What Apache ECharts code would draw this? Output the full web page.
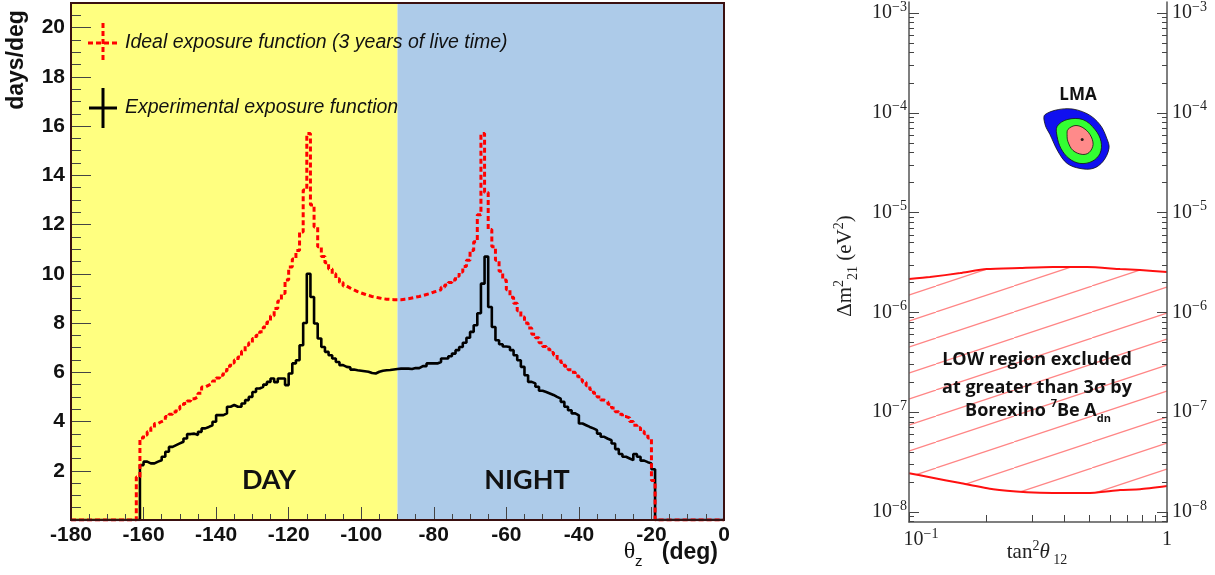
<!DOCTYPE html>
<html><head><meta charset="utf-8">
<script src="https://cdn.jsdelivr.net/npm/echarts@6/dist/echarts.min.js"></script>
<style>html,body{margin:0;padding:0;background:#fff}#c{width:1215px;height:575px}</style>
</head><body><div id="c"></div>
<script>
// ---------- Left panel: exposure functions (1-degree bins, value = days/deg) ----------
const idealFirstBin = -162;
const idealExposure = [
  1.75,3.33,3.45,3.58,3.75,3.92,4.0,4.06,4.2,4.3,
  4.39,4.5,4.62,4.73,4.83,4.92,5.0,5.15,5.4,5.48,
  5.55,5.65,5.77,5.88,6.05,6.25,6.38,6.5,6.62,6.85,
  7.1,7.2,7.37,7.5,7.65,7.84,8.04,8.3,8.59,8.9,
  9.2,9.75,10.28,10.6,10.95,11.7,13.4,15.7,12.8,11.9,
  11.1,10.7,10.45,10.2,10.0,9.8,9.65,9.5,9.42,9.35,
  9.28,9.22,9.17,9.12,9.08,9.05,9.02,8.99,8.97,8.96,
  8.95,8.95,8.95,8.97,8.99,9.02,9.05,9.08,9.12,9.16,
  9.2,9.26,9.3,9.35,9.45,9.55,9.65,9.75,9.9,10.07,
  10.3,10.55,10.95,11.3,12.4,15.7,13.3,11.8,11.1,10.55,
  10.1,9.75,9.35,9.05,8.8,8.5,8.25,8.0,7.8,7.55,
  7.4,7.2,7.05,6.95,6.8,6.7,6.55,6.4,6.25,6.1,
  6.0,5.85,5.7,5.6,5.45,5.3,5.15,5.0,4.87,4.8,
  4.7,4.55,4.4,4.3,4.2,4.15,4.0,3.85,3.75,3.6,
  3.5,3.33,1.6
];
const expFirstBin = -161;
const expExposure = [
  2.23,2.37,2.3,2.3,2.37,2.43,2.57,2.77,2.97,3.04,
  3.11,3.18,3.31,3.49,3.51,3.45,3.58,3.72,3.78,3.85,
  3.99,4.26,4.26,4.33,4.6,4.67,4.6,4.6,4.73,4.87,
  5.0,5.2,5.34,5.41,5.5,5.61,5.75,5.6,5.75,5.75,
  5.48,5.95,6.36,6.49,7.1,8.0,10.0,9.06,7.98,7.37,
  7.03,6.83,6.69,6.56,6.42,6.29,6.22,6.2,6.11,6.08,
  6.06,6.04,6.02,5.97,5.95,6.02,6.06,6.08,6.09,6.11,
  6.13,6.15,6.15,6.15,6.13,6.17,6.17,6.25,6.25,6.36,
  6.36,6.36,6.42,6.56,6.56,6.65,6.76,6.9,7.03,7.2,
  7.4,7.64,7.91,8.4,9.6,10.7,8.65,7.84,7.3,7.14,
  7.05,7.03,6.9,6.69,6.49,6.22,5.88,5.61,5.55,5.41,
  5.25,5.2,5.14,5.08,5.0,4.93,4.8,4.6,4.46,4.33,
  4.25,3.92,3.85,3.78,3.72,3.65,3.51,3.38,3.3,3.24,
  3.11,2.88,2.68,2.57,2.5,2.43,2.68,2.57,2.41,2.35,
  2.3,2.06
];
const dayRange = [-180, -90];
const nightRange = [-90, 0];

// ---------- Right panel: oscillation parameter space ----------
const lowUpper = [[0.1,2.16e-6],[0.1205,2.26e-6],[0.158,2.48e-6],[0.2,2.72e-6],[0.269,2.79e-6],[0.361,2.85e-6],[0.49,2.85e-6],[0.658,2.72e-6],[0.786,2.66e-6],[1.0,2.54e-6]];
const lowLower = [[0.1,2.45e-8],[0.1205,2.23e-8],[0.158,1.95e-8],[0.212,1.69e-8],[0.286,1.58e-8],[0.361,1.55e-8],[0.49,1.55e-8],[0.658,1.66e-8],[0.786,1.69e-8],[1.0,1.82e-8]];
const lmaOuter = [[0.337,9.6e-5],[0.41,1.10e-4],[0.49,9.8e-5],[0.55,7.6e-5],[0.585,5.5e-5],[0.596,4.4e-5],[0.565,3.26e-5],[0.517,2.77e-5],[0.46,2.77e-5],[0.41,3.11e-5],[0.378,4.1e-5],[0.352,6.05e-5],[0.337,7.6e-5]];
const lmaMiddle = [[0.375,7.3e-5],[0.41,8.55e-5],[0.472,8.55e-5],[0.526,6.8e-5],[0.555,5.16e-5],[0.55,3.92e-5],[0.512,3.26e-5],[0.46,3.11e-5],[0.417,3.49e-5],[0.388,4.4e-5],[0.375,5.78e-5]];
const lmaInner = [[0.413,6.8e-5],[0.44,7.45e-5],[0.472,7.1e-5],[0.503,6.05e-5],[0.517,4.82e-5],[0.499,4.0e-5],[0.469,3.83e-5],[0.432,4.2e-5],[0.413,5.16e-5],[0.41,6.05e-5]];
const bestFit = [[0.469, 5.4e-5]];

// tick labels / tick positions
const rightYMajorTicks = [1e-8, 1e-7, 1e-6, 1e-5, 1e-4, 1e-3];
const rightYMinorMantissas = [2,3,4,5,6,7,8,9];
const rightXMajorTicks = [0.1, 1];
const rightXMinorTicks = [0.2,0.3,0.4,0.5,0.6,0.7,0.8,0.9];

// ---------- build ----------
function histPoints(first, vals){
  const pts = [[-180, 0]];
  vals.forEach((v,i)=>pts.push([first+i, v]));
  pts.push([first+vals.length, 0]);
  pts.push([0, 0]);
  return pts;
}
const yMinR = Math.pow(10, -8.0998), yMaxR = Math.pow(10, -2.8902);
const rightYMinorTicks = [];
[1e-9,1e-8,1e-7,1e-6,1e-5,1e-4,1e-3].forEach(d=>rightYMinorMantissas.forEach(m=>{const v=m*d; if(v>yMinR && v<yMaxR) rightYMinorTicks.push(v);}));

const hatch = document.createElement('canvas');
hatch.width = 78; hatch.height = 26;
(function(){const c=hatch.getContext('2d');c.strokeStyle='#ff8585';c.lineWidth=1.2;
 [-78,0,78].forEach(o=>{c.beginPath();c.moveTo(o,26);c.lineTo(o+78,0);c.stroke();});})();

function polygonSeries(points, fill){
  return {
    type:'custom', xAxisIndex:1, yAxisIndex:1, data: points, z: 6, silent:true,
    renderItem: function(params, api){
      if (params.dataIndex !== 0) return;
      return {type:'polygon', shape:{points: points.map(p=>api.coord(p)), smooth:0.35},
              style:{fill: fill, stroke:'#111', lineWidth:0.8}};
    }
  };
}
const lowRegion = lowUpper.concat(lowLower.slice().reverse());

const SANS = 'Liberation Sans', SERIF = 'Liberation Serif', CAL = 'Open Sans';
const supFmt = function(v){
  const e = Math.round(Math.log10(v));
  return '{b|10}{s|' + String(e).replace('-', '\u2212') + '}';
};
const supRich = {
  b:{fontFamily:SERIF, fontSize:20, lineHeight:20, verticalAlign:'bottom', color:'#222'},
  s:{fontFamily:SERIF, fontSize:14, lineHeight:14, padding:[0,0,9,0], verticalAlign:'bottom', color:'#222'},
  sp:{width:24, fontSize:20, lineHeight:20, verticalAlign:'bottom'}
};
const frameRight = {color:'#555', width:1.5};
const tickCol = {color:'#444'};

const option = {
  animation:false,
  backgroundColor:'#fff',
  grid:[
    {left:71, right:491, top:3, bottom:55, show:true, borderColor:'#3a1010', borderWidth:2, backgroundColor:'transparent', z:10},
    {left:909, right:48, top:0, bottom:53}
  ],
  xAxis:[
    {gridIndex:0, type:'value', min:-180, max:0, interval:20, position:'bottom', z:6,
     axisLine:{onZero:false, lineStyle:{color:'#333', width:1.5}},
     axisTick:{inside:true, length:13, lineStyle:tickCol},
     minorTick:{show:true, splitNumber:4, length:6, lineStyle:tickCol},
     splitLine:{show:false},
     axisLabel:{fontFamily:SANS, fontWeight:'bold', fontSize:21, color:'#111', margin:5}},
    {gridIndex:1, type:'log', logBase:10, min:0.1, max:1, position:'bottom', z:6,
     axisLine:{onZero:false, lineStyle:frameRight},
     axisTick:{inside:true, length:10, customValues:rightXMajorTicks, lineStyle:tickCol},
     axisLabel:{customValues:rightXMajorTicks, margin:8, rich:supRich,
       formatter:function(v){ return v>=1 ? '{b|1}' : '{sp| }' + supFmt(v); }},
     splitLine:{show:false}},
    {gridIndex:1, type:'log', logBase:10, min:0.1, max:1, position:'bottom', z:6,
     axisLine:{show:false, onZero:false},
     axisTick:{inside:true, length:7, customValues:rightXMinorTicks, lineStyle:tickCol},
     axisLabel:{show:false}, splitLine:{show:false}}
  ],
  yAxis:[
    {gridIndex:0, type:'value', min:0, max:21, interval:2, position:'left', z:6,
     axisLine:{show:true, onZero:false, lineStyle:{color:'#333', width:1.5}},
     axisTick:{inside:true, length:20, lineStyle:tickCol},
     minorTick:{show:true, splitNumber:4, length:10, lineStyle:tickCol},
     splitLine:{show:false},
     axisLabel:{fontFamily:SANS, fontWeight:'bold', fontSize:21, color:'#111', margin:6,
       formatter:function(v){ return (v<=0 || v>20) ? '' : String(v); }}},
    {gridIndex:1, type:'log', logBase:10, min:yMinR, max:yMaxR, position:'left', z:6,
     axisLine:{show:true, onZero:false, lineStyle:frameRight},
     axisTick:{inside:true, length:10, customValues:rightYMajorTicks, lineStyle:tickCol},
     axisLabel:{customValues:rightYMajorTicks, margin:2, rich:supRich, formatter:supFmt},
     splitLine:{show:false}},
    {gridIndex:1, type:'log', logBase:10, min:yMinR, max:yMaxR, position:'left', z:6,
     axisLine:{show:false, onZero:false},
     axisTick:{inside:true, length:5, customValues:rightYMinorTicks, lineStyle:tickCol},
     axisLabel:{show:false}, splitLine:{show:false}},
    {gridIndex:1, type:'log', logBase:10, min:yMinR, max:yMaxR, position:'right', z:6,
     axisLine:{show:true, onZero:false, lineStyle:frameRight},
     axisTick:{inside:true, length:10, customValues:rightYMajorTicks, lineStyle:tickCol},
     axisLabel:{customValues:rightYMajorTicks, margin:5, rich:supRich, formatter:supFmt},
     splitLine:{show:false}},
    {gridIndex:1, type:'log', logBase:10, min:yMinR, max:yMaxR, position:'right', z:6,
     axisLine:{show:false, onZero:false},
     axisTick:{inside:true, length:5, customValues:rightYMinorTicks, lineStyle:tickCol},
     axisLabel:{show:false}, splitLine:{show:false}}
  ],
  series:[
    {type:'line', xAxisIndex:0, yAxisIndex:0, data:[], z:1, silent:true,
     markArea:{silent:true, itemStyle:{opacity:1},
       data:[[{xAxis:dayRange[0], itemStyle:{color:'#ffff80'}},{xAxis:dayRange[1]}],
             [{xAxis:nightRange[0], itemStyle:{color:'#adcbe9'}},{xAxis:nightRange[1]}]]}},
    {name:'Experimental exposure function', type:'line', xAxisIndex:0, yAxisIndex:0, step:'end',
     showSymbol:false, symbol:'none', z:3, silent:true,
     lineStyle:{color:'#000', width:2.6}, data: histPoints(expFirstBin, expExposure)},
    {name:'Ideal exposure function (3 years of live time)', type:'line', xAxisIndex:0, yAxisIndex:0, step:'end',
     showSymbol:false, symbol:'none', z:4, silent:true,
     lineStyle:{color:'#ff0000', width:3, type:[5,3]}, data: histPoints(idealFirstBin, idealExposure)},
    {type:'custom', xAxisIndex:1, yAxisIndex:1, data: lowRegion, z:3, silent:true,
     renderItem:function(params, api){
       if (params.dataIndex !== 0) return;
       return {type:'polygon', shape:{points: lowRegion.map(p=>api.coord(p))},
               style:{fill:{image:hatch, repeat:'repeat'}, stroke:null}};
     }},
    {type:'line', xAxisIndex:1, yAxisIndex:1, data: lowUpper, smooth:0.2, symbol:'none', z:4, silent:true,
     lineStyle:{color:'#ff1010', width:2}},
    {type:'line', xAxisIndex:1, yAxisIndex:1, data: lowLower, smooth:0.2, symbol:'none', z:4, silent:true,
     lineStyle:{color:'#ff1010', width:2}},
    polygonSeries(lmaOuter, '#1010f0'),
    polygonSeries(lmaMiddle, '#33ff33'),
    polygonSeries(lmaInner, '#ff8a8a'),
    {type:'scatter', xAxisIndex:1, yAxisIndex:1, data: bestFit, symbolSize:3, z:8, silent:true,
     itemStyle:{color:'#000'}}
  ],
  graphic:[
    {type:'text', x:17, y:60, rotation:Math.PI/2, z:100,
     style:{text:'days/deg', fill:'#111', font:'bold 23px "Liberation Sans"', align:'center', verticalAlign:'middle', textAlign:'center', textVerticalAlign:'middle'}},
    // legend
    {type:'line', z:100, shape:{x1:88, y1:43, x2:118, y2:43}, style:{stroke:'#ff0000', lineWidth:3, lineDash:[5,3]}},
    {type:'line', z:100, shape:{x1:103, y1:23, x2:103, y2:63}, style:{stroke:'#ff0000', lineWidth:3, lineDash:[5,3]}},
    {type:'text', x:125, y:43, z:100,
     style:{text:'Ideal exposure function (3 years of live time)', fill:'#111', font:'italic 19.5px "Liberation Sans"', align:'left', verticalAlign:'middle', textAlign:'left', textVerticalAlign:'middle'}},
    {type:'line', z:100, shape:{x1:89, y1:108, x2:117, y2:108}, style:{stroke:'#000', lineWidth:3}},
    {type:'line', z:100, shape:{x1:103, y1:88, x2:103, y2:128}, style:{stroke:'#000', lineWidth:3}},
    {type:'text', x:125, y:108, z:100,
     style:{text:'Experimental exposure function', fill:'#111', font:'italic 19.5px "Liberation Sans"', align:'left', verticalAlign:'middle', textAlign:'left', textVerticalAlign:'middle'}},
    {type:'text', x:269, y:480, z:100,
     style:{text:'DAY', fill:'#111', font:'bold 27px "Lato"', align:'center', verticalAlign:'middle', textAlign:'center', textVerticalAlign:'middle'}},
    {type:'text', x:527, y:480, z:100,
     style:{text:'NIGHT', fill:'#111', font:'bold 27px "Lato"', align:'center', verticalAlign:'middle', textAlign:'center', textVerticalAlign:'middle'}},
    {type:'text', x:718, y:557, z:100,
     style:{text:'{t|\u03b8}{z|z}{d|   (deg)}', align:'right', verticalAlign:'middle', textAlign:'right', textVerticalAlign:'middle',
       rich:{t:{fontFamily:SERIF, fontSize:24, lineHeight:24, padding:[0,0,5,0], verticalAlign:'bottom', fill:'#111'},
             z:{fontFamily:SANS, fontSize:15, lineHeight:15, verticalAlign:'bottom', fill:'#111'},
             d:{fontFamily:SANS, fontWeight:'bold', fontSize:23, lineHeight:23, padding:[0,0,5,0], verticalAlign:'bottom', fill:'#111'}}}},
    // right panel texts
    {type:'text', x:1078, y:95, z:100,
     style:{text:'LMA', fill:'#111', font:'bold 17px "Open Sans"', align:'center', verticalAlign:'middle', textAlign:'center', textVerticalAlign:'middle'}},
    {type:'text', x:1037, y:360, z:100,
     style:{text:'LOW region excluded', fill:'#111', font:'bold 18px "Open Sans"', align:'center', verticalAlign:'middle', textAlign:'center', textVerticalAlign:'middle'}},
    {type:'text', x:1037, y:388, z:100,
     style:{text:'at greater than 3\u03c3 by', fill:'#111', font:'bold 18px "Open Sans"', align:'center', verticalAlign:'middle', textAlign:'center', textVerticalAlign:'middle'}},
    {type:'text', x:1038, y:414, z:100,
     style:{text:'{n|Borexino }{p|7}{n|Be A}{b|dn}', align:'center', verticalAlign:'middle', textAlign:'center', textVerticalAlign:'middle',
       rich:{n:{fontFamily:CAL, fontWeight:'bold', fontSize:18, lineHeight:20, padding:[0,0,4,0], verticalAlign:'bottom', fill:'#111'},
             p:{fontFamily:CAL, fontWeight:'bold', fontSize:11, lineHeight:12, padding:[0,0,15,0], verticalAlign:'bottom', fill:'#111'},
             b:{fontFamily:CAL, fontWeight:'bold', fontSize:11, lineHeight:12, verticalAlign:'bottom', fill:'#111'}}}},
    {type:'text', x:850, y:266, rotation:Math.PI/2, z:100,
     style:{text:'{n|\u0394m}{p|2}{b|21}{n| (eV}{p|2}{n|)}', align:'center', verticalAlign:'middle', textAlign:'center', textVerticalAlign:'middle',
       rich:{n:{fontFamily:SERIF, fontSize:21, lineHeight:21, padding:[0,0,5,0], verticalAlign:'bottom', fill:'#222'},
             p:{fontFamily:SERIF, fontSize:14, lineHeight:14, padding:[0,0,14,0], verticalAlign:'bottom', fill:'#222'},
             b:{fontFamily:SERIF, fontSize:14, lineHeight:14, verticalAlign:'bottom', fill:'#222'}}}},
    {type:'text', x:1037, y:557, z:100,
     style:{text:'{n|tan}{p|2}{t|\u03b8}{b| 12}', align:'center', verticalAlign:'middle', textAlign:'center', textVerticalAlign:'middle',
       rich:{n:{fontFamily:SERIF, fontSize:21, lineHeight:21, padding:[0,0,5,0], verticalAlign:'bottom', fill:'#222'},
             t:{fontFamily:SERIF, fontStyle:'italic', fontSize:21, lineHeight:21, padding:[0,0,5,0], verticalAlign:'bottom', fill:'#222'},
             p:{fontFamily:SERIF, fontSize:14, lineHeight:14, padding:[0,0,14,0], verticalAlign:'bottom', fill:'#222'},
             b:{fontFamily:SERIF, fontSize:14, lineHeight:14, verticalAlign:'bottom', fill:'#222'}}}}
  ]
};
const chart = echarts.init(document.getElementById('c'), null, {renderer:'canvas'});
chart.setOption(option);
</script>
</body></html>
